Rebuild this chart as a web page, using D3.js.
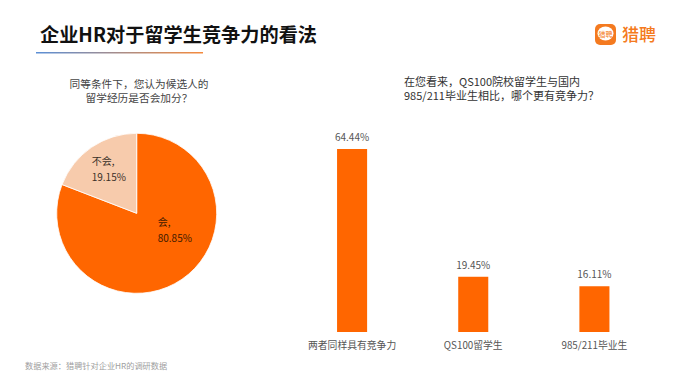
<!DOCTYPE html>
<html lang="zh">
<head>
    <meta charset="UTF-8">
    <title>企业HR对于留学生竞争力的看法</title>
    <script src="https://d3js.org/d3.v7.min.js"></script>
    <style>
        html, body { margin: 0; padding: 0; background: #fff; overflow: hidden; }
        svg { display: block; }
        text { font-family: "Noto Sans CJK SC", "Open Sans", sans-serif; }
    </style>
</head>
<body>
    <svg id="chart" width="675" height="377"></svg>
    <script>
const pieLabels = ["会", "不会"];
const pieValues = [80.85, 19.15];
const pieColors = ["#ff6600", "#f7cbac"];

const barCategories = ["两者同样具有竞争力", "QS100留学生", "985/211毕业生"];
const barValues = [64.44, 19.45, 16.11];

const title = "企业HR对于留学生竞争力的看法";
const pieQuestion = ["同等条件下，您认为候选人的", "留学经历是否会加分？"];
const barQuestion = ["在您看来，QS100院校留学生与国内", "985/211毕业生相比，哪个更有竞争力？"];
const source = "数据来源：猎聘针对企业HR的调研数据";

const svg = d3.select("#chart");

// title + gradient rule
const grad = svg.append("defs").append("linearGradient").attr("id", "rule");
grad.append("stop").attr("offset", "0%").attr("stop-color", "#5b8fd6");
grad.append("stop").attr("offset", "100%").attr("stop-color", "#f58a3c");

svg.append("text").attr("x", 40).attr("y", 42)
    .attr("font-size", 19.2).attr("font-weight", 700).attr("fill", "#111")
    .text(title);
svg.append("rect").attr("x", 36).attr("y", 52).attr("width", 167).attr("height", 1.5)
    .attr("fill", "url(#rule)");

// logo
const logo = svg.append("g");
logo.append("rect").attr("x", 595).attr("y", 24).attr("width", 21).attr("height", 21).attr("rx", 5)
    .attr("fill", "#f47a20");
logo.append("ellipse").attr("cx", 605.5).attr("cy", 33.5).attr("rx", 8).attr("ry", 7).attr("fill", "#fff");
logo.append("text").attr("x", 605.5).attr("y", 36.5).attr("text-anchor", "middle")
    .attr("font-size", 7).attr("fill", "#f47a20").text("猎聘");
logo.append("text").attr("x", 622).attr("y", 41)
    .attr("font-size", 17).attr("font-weight", 500).attr("fill", "#f47a20").text("猎聘");

// question text
svg.append("g").selectAll("text").data(pieQuestion).enter().append("text")
    .attr("x", 139).attr("y", (d, i) => 88 + i * 13.5)
    .attr("text-anchor", "middle").attr("font-size", 10.7).attr("fill", "#444")
    .text(d => d);
svg.append("g").selectAll("text").data(barQuestion).enter().append("text")
    .attr("x", 404).attr("y", (d, i) => 86 + i * 14)
    .attr("font-size", 11).attr("fill", "#333")
    .text(d => d);

// pie
const pieData = d3.pie().sort(null)(pieValues);
const arc = d3.arc().innerRadius(0).outerRadius(80);
const pieG = svg.append("g").attr("transform", "translate(136.7,213.3)");
pieG.selectAll("path").data(pieData).enter().append("path")
    .attr("d", arc)
    .attr("fill", (d, i) => pieColors[i])
    .attr("stroke", "#fff").attr("stroke-width", 0.8);

const pieLabelPos = [[21, 13], [-45, -48]];
const pieLabelColors = ["#3d1a00", "#3a3028"];
pieData.forEach((d, i) => {
    const t = pieG.append("text").attr("font-size", 10).attr("fill", pieLabelColors[i]);
    t.append("tspan").attr("x", pieLabelPos[i][0]).attr("y", pieLabelPos[i][1]).text(pieLabels[i] + ",");
    t.append("tspan").attr("x", pieLabelPos[i][0]).attr("y", pieLabelPos[i][1] + 16)
        .text(d3.format(".2f")(d.data) + "%");
});

// bars
const x = d3.scaleBand().domain(barCategories).range([291.5, 655]).paddingInner(0.752).paddingOuter(0.376);
const y = d3.scaleLinear().domain([0, 64.44]).range([332, 149]);

svg.append("g").selectAll("rect").data(barValues).enter().append("rect")
    .attr("x", (d, i) => x(barCategories[i]))
    .attr("y", d => y(d))
    .attr("width", x.bandwidth())
    .attr("height", d => y(0) - y(d))
    .attr("fill", "#ff6600");

svg.append("g").selectAll("text").data(barValues).enter().append("text")
    .attr("x", (d, i) => x(barCategories[i]) + x.bandwidth() / 2)
    .attr("y", d => y(d) - 8)
    .attr("text-anchor", "middle").attr("font-size", 10).attr("fill", "#555")
    .text(d => d3.format(".2f")(d) + "%");

const xAxis = d3.axisBottom(x).tickSize(0).tickPadding(10);
const axisG = svg.append("g").attr("transform", "translate(0,332)").call(xAxis);
axisG.select(".domain").remove();
axisG.selectAll("text").attr("font-size", 9.8).attr("fill", "#555")
    .style("font-family", '"Noto Sans CJK SC", "Open Sans", sans-serif');

// source
svg.append("text").attr("x", 25).attr("y", 369)
    .attr("font-size", 8.2).attr("fill", "#a0a0a0").text(source);
    </script>
</body>
</html>
